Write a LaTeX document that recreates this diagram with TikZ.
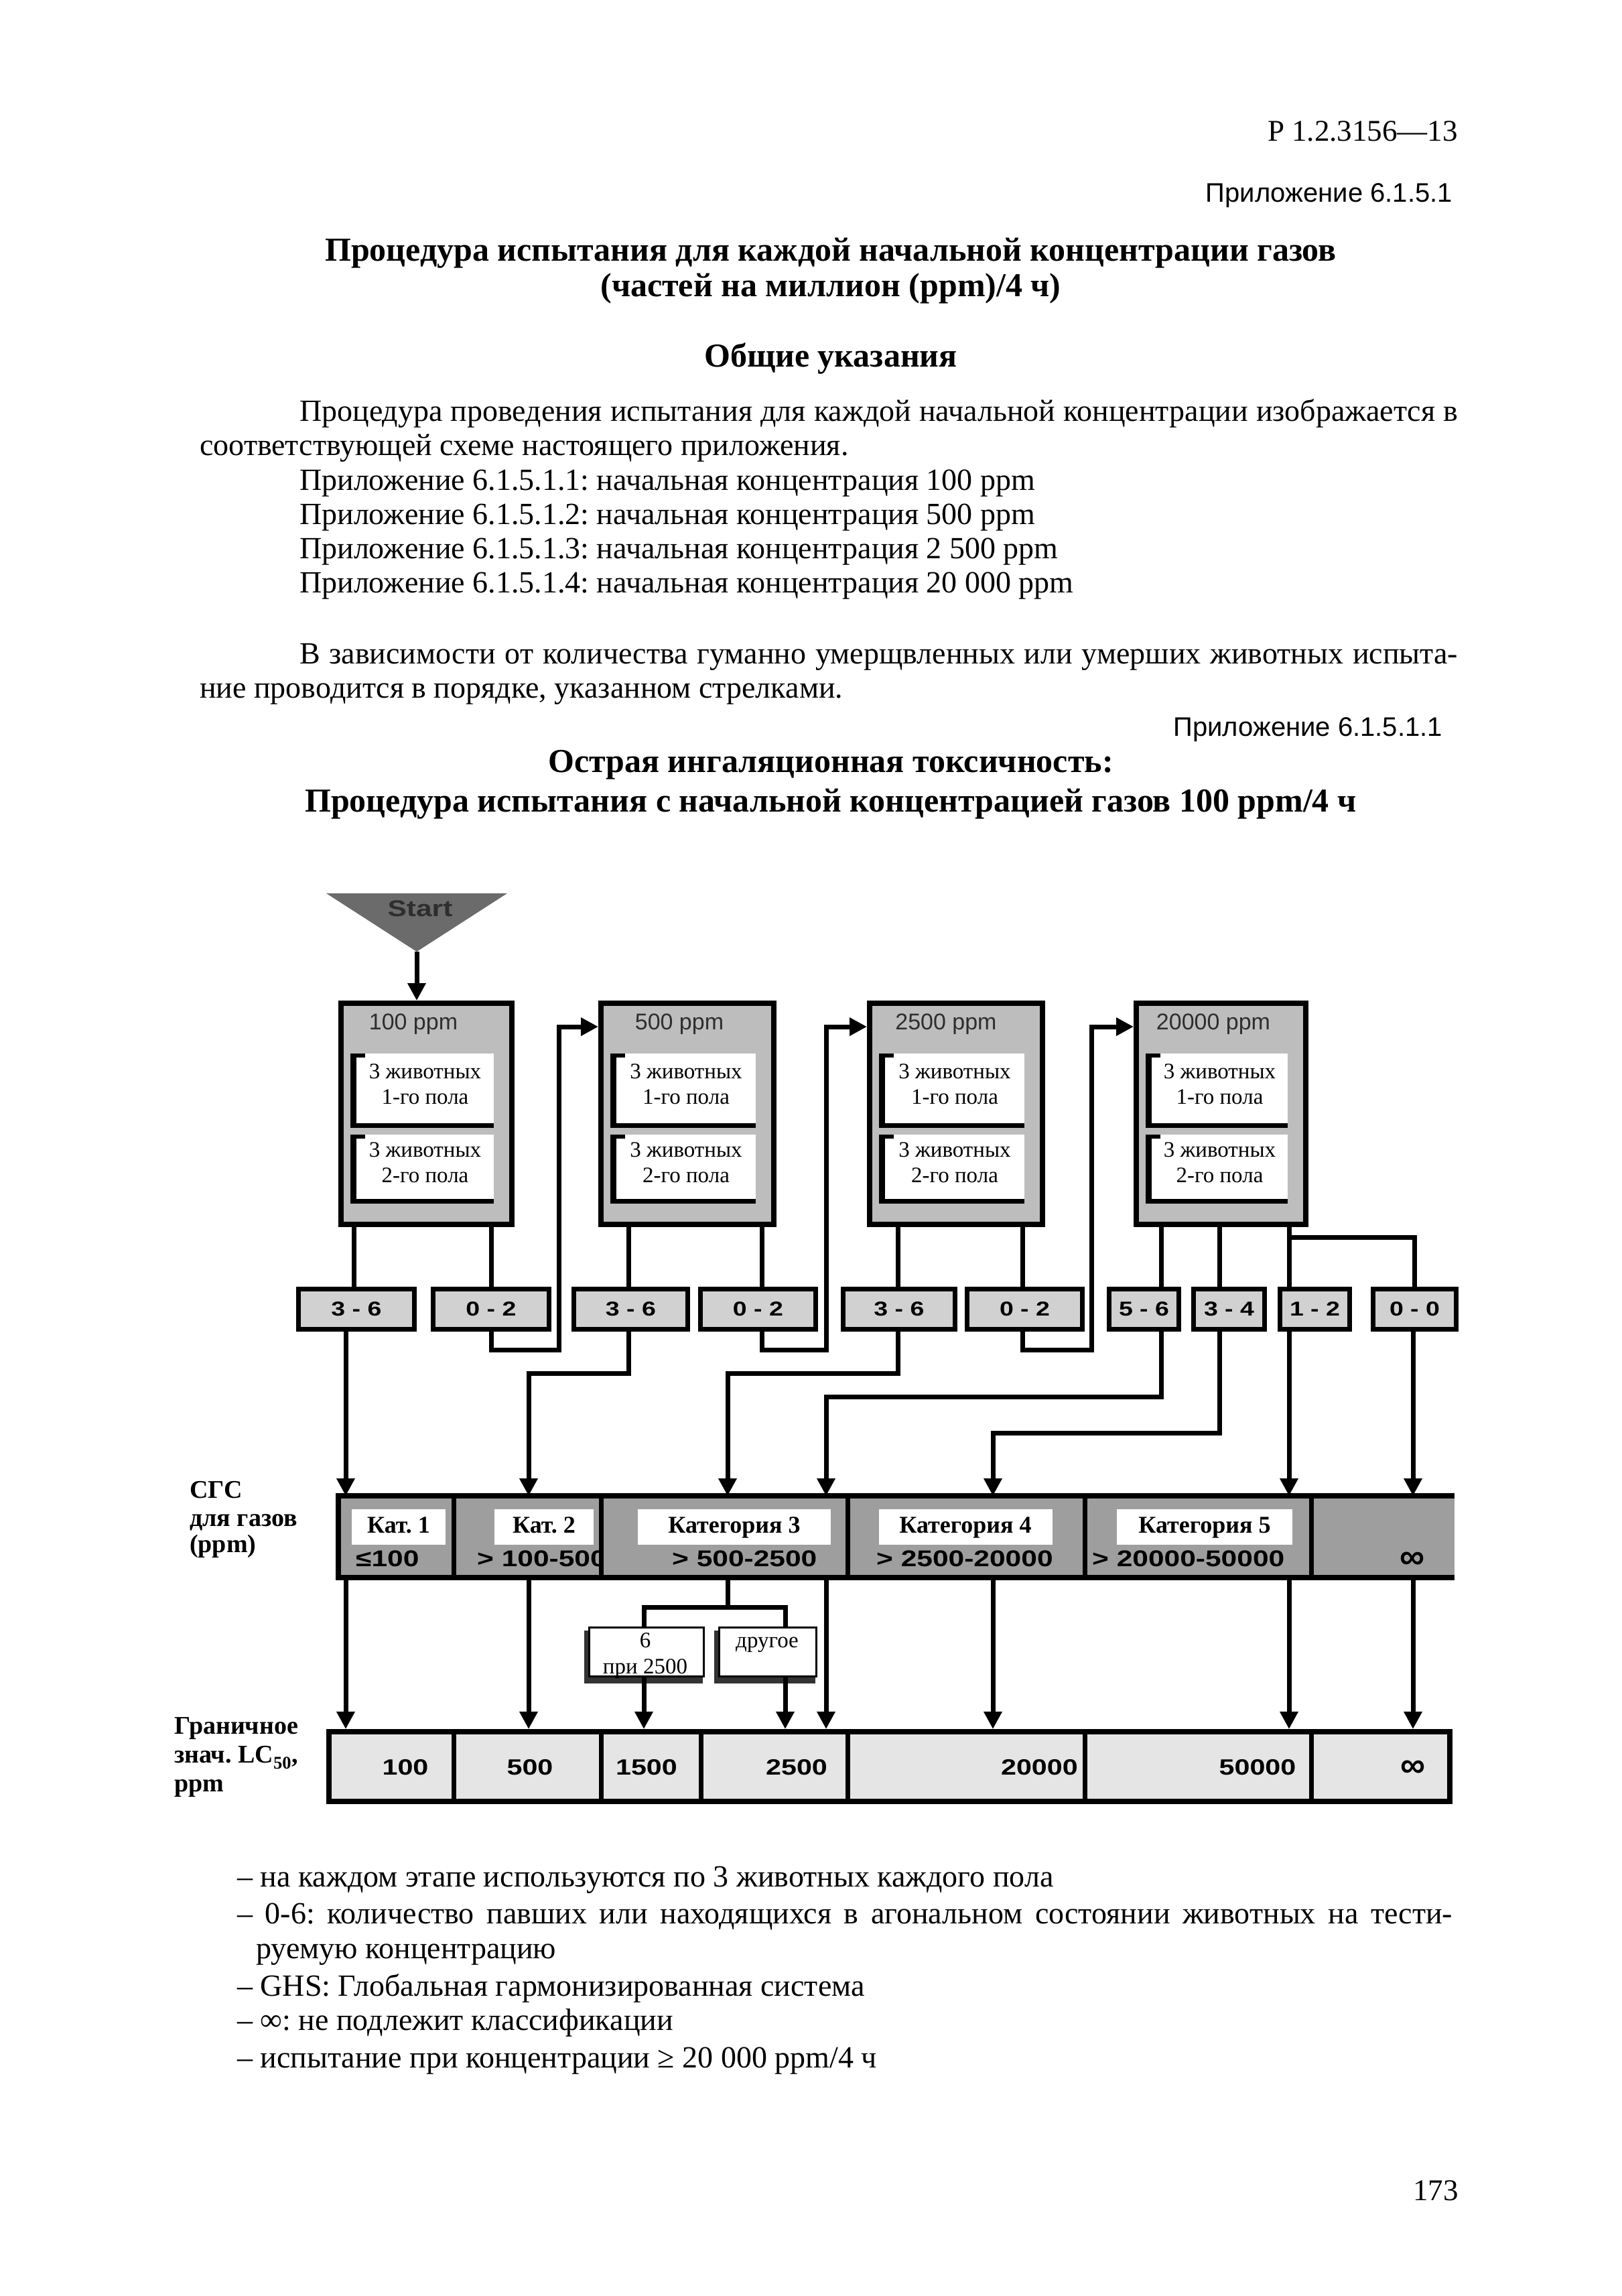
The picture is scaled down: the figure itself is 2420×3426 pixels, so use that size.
\documentclass[tikz,border=0pt]{standalone}
\usepackage{fontspec}
\setmainfont{Liberation Serif}
\setsansfont{Liberation Sans}
\newfontfamily\dsans[FakeStretch=1.25]{Liberation Sans}
\usetikzlibrary{arrows.meta,calc}
\newcommand\fs[2]{\fontsize{#1}{#2}\selectfont}
\definecolor{boxgray}{gray}{0.74}
\definecolor{resgray}{gray}{0.82}
\definecolor{cgsgray}{gray}{0.62}
\definecolor{lcgray}{gray}{0.9}
\definecolor{startgray}{gray}{0.42}
\definecolor{titlegray}{gray}{0.18}
\newcommand\ibox[6]{%
  \fill[white] (#2,#3) rectangle (#4,#5);
  \fill[black] (#2,#3) rectangle ({#2+9},#5);
  \fill[black] (#2,{#5-7}) rectangle (#4,#5);
  \fill[black] (#2,#3) rectangle ({#2+22},{#3+6});
  \node[font=\fs{33}{38}, align=center] (#1) at ({(#2+9+#4)/2},{(#3+#5)/2-10}) {#6};
}
\frenchspacing
\begin{document}
\frenchspacing
\begin{tikzpicture}[x=1pt,y=-1pt,
  every node/.style={inner sep=0pt},
  bigbox/.style={draw=black, line width=8pt, fill=boxgray, anchor=north west, minimum height=330},
  resbox/.style={draw=black, line width=7pt, fill=resgray, anchor=north west, minimum height=60, font=\dsans\bfseries\fs{30}{34}},
  conn/.style={line width=7pt},
  arr/.style={line width=7pt, -{Triangle[width=26pt,length=26pt]}},
  txt/.style={anchor=base west, font=\fs{46}{52}},
  head/.style={anchor=base, font=\bfseries\fs{50}{58}},
  btitle/.style={font=\sffamily\fs{34}{38}, text=titlegray},
  catlab/.style={anchor=base, font=\bfseries\fs{36}{40}},
  rng/.style={anchor=base west, font=\dsans\bfseries\fs{34}{38}},
  val/.style={anchor=base, font=\dsans\bfseries\fs{33}{38}},
  inf/.style={anchor=base, font=\sffamily\bfseries\fs{52}{56}},
  side/.style={anchor=base west, font=\bfseries\fs{38}{42}},
  small/.style={anchor=base, font=\fs{33}{38}},
  sbox/.style={anchor=north west, minimum height=73, fill=white, draw=black, line width=3pt}
]
\fill[white] (0,0) rectangle (2420,3426);
\useasboundingbox (0,0) rectangle (2420,3426);

% ---------- page text ----------
\node[anchor=base east, font=\fs{45}{52}] (hdr) at (2176,210) {Р 1.2.3156—13};
\node[anchor=base east, font=\sffamily\fs{40}{48}] (app1) at (2168,301) {Приложение 6.1.5.1};
\node[head] (t1) at (1240,389) {Процедура испытания для каждой начальной концентрации газов};
\node[head] (t2) at (1240,442) {(частей на миллион (ppm)/4 ч)};
\node[head] (t3) at (1240,547) {Общие указания};
\node[txt] (p1) at (447,628) {\makebox[1729pt][s]{Процедура проведения испытания для каждой начальной концентрации изображается в}};
\node[txt] (p2) at (298,679) {соответствующей схеме настоящего приложения.};
\node[txt] (p3) at (447,731) {Приложение 6.1.5.1.1: начальная концентрация 100 ppm};
\node[txt] (p4) at (447,782) {Приложение 6.1.5.1.2: начальная концентрация 500 ppm};
\node[txt] (p5) at (447,833) {Приложение 6.1.5.1.3: начальная концентрация 2 500 ppm};
\node[txt] (p6) at (447,884) {Приложение 6.1.5.1.4: начальная концентрация 20 000 ppm};
\node[txt] (p7) at (447,990) {\makebox[1729pt][s]{В зависимости от количества гуманно умерщвленных или умерших животных испыта-}};
\node[txt] (p8) at (298,1041) {ние проводится в порядке, указанном стрелками.};
\node[anchor=base east, font=\sffamily\fs{40}{48}] (app2) at (2153,1098) {Приложение 6.1.5.1.1};
\node[head] (t4) at (1240,1152) {Острая ингаляционная токсичность:};
\node[head] (t5) at (1240,1211) {Процедура испытания с начальной концентрацией газов 100 ppm/4 ч};

% ---------- start ----------
\fill[startgray] (487,1333) -- (757,1333) -- (622,1420) -- cycle;
\node[font=\dsans\bfseries\fs{34}{38}, text=titlegray] (start) at (627,1356) {Start};
\coordinate (apex) at (622,1420);

% ---------- concentration boxes ----------
\node[bigbox, minimum width=255] (B1) at (505,1493) {};
\node[bigbox, minimum width=258] (B2) at (893,1493) {};
\node[bigbox, minimum width=258] (B3) at (1294,1493) {};
\node[bigbox, minimum width=253] (B4) at (1692,1493) {};
\node[btitle] (B1t) at (617,1528) {100 ppm};
\node[btitle] (B2t) at (1014,1528) {500 ppm};
\node[btitle] (B3t) at (1412,1528) {2500 ppm};
\node[btitle] (B4t) at (1811,1528) {20000 ppm};
\ibox{B1a}{523}{1572}{737}{1683}{3 животных\\1-го пола}
\ibox{B1b}{523}{1693}{737}{1796}{3 животных\\2-го пола}
\ibox{B2a}{911}{1572}{1128}{1683}{3 животных\\1-го пола}
\ibox{B2b}{911}{1693}{1128}{1796}{3 животных\\2-го пола}
\ibox{B3a}{1312}{1572}{1529}{1683}{3 животных\\1-го пола}
\ibox{B3b}{1312}{1693}{1529}{1796}{3 животных\\2-го пола}
\ibox{B4a}{1710}{1572}{1922}{1683}{3 животных\\1-го пола}
\ibox{B4b}{1710}{1693}{1922}{1796}{3 животных\\2-го пола}

% ---------- result boxes ----------
\node[resbox, minimum width=173] (R1) at (442,1920) {3 - 6};
\node[resbox, minimum width=173] (R2) at (643,1920) {0 - 2};
\node[resbox, minimum width=170] (R3) at (853,1920) {3 - 6};
\node[resbox, minimum width=172] (R4) at (1042,1920) {0 - 2};
\node[resbox, minimum width=167] (R5) at (1255,1920) {3 - 6};
\node[resbox, minimum width=172] (R6) at (1440,1920) {0 - 2};
\node[resbox, minimum width=104] (R7) at (1652,1920) {5 - 6};
\node[resbox, minimum width=106] (R8) at (1778,1920) {3 - 4};
\node[resbox, minimum width=104] (R9) at (1907,1920) {1 - 2};
\node[resbox, minimum width=124] (R10) at (2046,1920) {0 - 0};

% ---------- GHS bar ----------
\node[anchor=north west, minimum width=1666, minimum height=122, fill=cgsgray] (CGS) at (505,2232) {};
\draw[line width=8pt] (CGS.north east) -- (CGS.north west) -- (CGS.south west) -- (CGS.south east);
\foreach \x in {677,897,1265,1619,1957} \draw[line width=7pt] (\x,2232) -- (\x,2354);
\fill[white] (525,2252) rectangle (665,2305);
\fill[white] (738,2252) rectangle (886,2305);
\fill[white] (952,2252) rectangle (1240,2305);
\fill[white] (1312,2252) rectangle (1571,2305);
\fill[white] (1667,2252) rectangle (1929,2305);
\node[catlab] (k1) at (595,2287) {Кат. 1};
\node[catlab] (k2) at (812,2287) {Кат. 2};
\node[catlab] (k3) at (1096,2287) {Категория 3};
\node[catlab] (k4) at (1441,2287) {Категория 4};
\node[catlab] (k5) at (1798,2287) {Категория 5};
\node[rng] (r1) at (531,2337) {≤100};
\begin{scope}
  \clip (681,2236) rectangle (893,2350);
  \node[rng] (r2) at (712,2337) {> 100-500};
\end{scope}
\node[rng] (r3) at (1003,2337) {> 500-2500};
\node[rng] (r4) at (1308,2337) {> 2500-20000};
\node[rng] (r5) at (1630,2337) {> 20000-50000};
\node[inf] (r6) at (2108,2340) {∞};

% ---------- small boxes ----------
\fill[black!80] (872,2433) rectangle (1049,2512);
\node[sbox, minimum width=171] (S1) at (878,2427) {};
\node[small] (S1a) at (963,2458) {6};
\node[small] (S1b) at (963,2497) {при 2500};
\fill[black!80] (1066,2433) rectangle (1217,2512);
\node[sbox, minimum width=145] (S2) at (1072,2427) {};
\node[small] (S2a) at (1145,2458) {другое};

% ---------- LC50 bar ----------
\node[anchor=north west, minimum width=1673, minimum height=104, fill=lcgray, draw=black, line width=8pt] (LC) at (487,2580) {};
\foreach \x in {677,897,1046,1265,1619,1957} \draw[line width=7pt] (\x,2580) -- (\x,2684);
\node[val] (v1) at (605,2648) {100};
\node[val] (v2) at (791,2648) {500};
\node[val] (v3) at (965,2648) {1500};
\node[val] (v4) at (1189,2648) {2500};
\node[val, anchor=base east] (v5) at (1609,2648) {20000};
\node[val] (v6) at (1877,2648) {50000};
\node[inf] (v7) at (2109,2651) {∞};

% ---------- side labels ----------
\node[side] (g1) at (283,2235) {СГС};
\node[side] (g2) at (283,2277) {для газов};
\node[side] (g3) at (283,2316) {(ppm)};
\node[side] (h1) at (260,2587) {Граничное};
\node[side] (h2) at (260,2630) {знач. LC\textsubscript{50},};
\node[side] (h3) at (260,2673) {ppm};

% ---------- lanes ----------
\coordinate (xS1t) at (528,0);
\coordinate (xS1b) at (516,0);
\coordinate (xS2) at (733,0);
\coordinate (xU2) at (834,0);
\coordinate (xS3) at (938,0);
\coordinate (xK2) at (789,0);
\coordinate (xS4) at (1137,0);
\coordinate (xU3) at (1233,0);
\coordinate (xS5) at (1340,0);
\coordinate (xK3) at (1086,0);
\coordinate (xS6) at (1526,0);
\coordinate (xU4) at (1629,0);
\coordinate (xS7) at (1733,0);
\coordinate (xS8) at (1820,0);
\coordinate (xK4) at (1482,0);
\coordinate (xS9) at (1924,0);
\coordinate (xS10) at (2109,0);
\coordinate (xSa) at (961,0);
\coordinate (xSb) at (1172,0);
\coordinate (yA) at (0,2014);
\coordinate (yB) at (0,2049);
\coordinate (yC) at (0,2084);
\coordinate (yD) at (0,2138);
\coordinate (yE) at (0,1846);
\coordinate (yF) at (0,1532);
\coordinate (yG) at (0,2398);

% ---------- connectors ----------
\draw[arr] (apex) -- (apex |- B1.north);
\draw[conn] (B1.south -| xS1t) -- (R1.north -| xS1t);
\draw[conn] (B1.south -| xS2) -- (R2.north -| xS2);
\draw[conn] (B2.south -| xS3) -- (R3.north -| xS3);
\draw[conn] (B2.south -| xS4) -- (R4.north -| xS4);
\draw[conn] (B3.south -| xS5) -- (R5.north -| xS5);
\draw[conn] (B3.south -| xS6) -- (R6.north -| xS6);
\draw[conn] (B4.south -| xS7) -- (R7.north -| xS7);
\draw[conn] (B4.south -| xS8) -- (R8.north -| xS8);
\draw[conn] (B4.south -| xS9) -- (R9.north -| xS9);
\draw[conn] (yE -| xS9) -| (R10.north);

\draw[arr] (R1.south -| xS1b) -- (CGS.north -| xS1b);
\draw[arr] (R2.south -| xS2) |- (yA -| xU2) |- (B2.west |- yF);
\draw[arr] (R3.south -| xS3) |- (yB -| xK2) -- (CGS.north -| xK2);
\draw[arr] (R4.south -| xS4) |- (yA -| xU3) |- (B3.west |- yF);
\draw[arr] (R5.south -| xS5) |- (yB -| xK3) -- (CGS.north -| xK3);
\draw[arr] (R6.south -| xS6) |- (yA -| xU4) |- (B4.west |- yF);
\draw[arr] (R7.south -| xS7) |- (yC -| xU3) -- (CGS.north -| xU3);
\draw[arr] (R8.south -| xS8) |- (yD -| xK4) -- (CGS.north -| xK4);
\draw[arr] (R9.south -| xS9) -- (CGS.north -| xS9);
\draw[arr] (R10.south -| xS10) -- (CGS.north -| xS10);

\draw[arr] (CGS.south -| xS1b) -- (LC.north -| xS1b);
\draw[arr] (CGS.south -| xK2) -- (LC.north -| xK2);
\draw[conn] (CGS.south -| xK3) -- (yG -| xK3);
\draw[conn] (S1.north -| xSa) |- (yG -| xSb) -- (S2.north -| xSb);
\draw[arr] (S1.south -| xSa) -- (LC.north -| xSa);
\draw[arr] (S2.south -| xSb) -- (LC.north -| xSb);
\draw[arr] (CGS.south -| xU3) -- (LC.north -| xU3);
\draw[arr] (CGS.south -| xK4) -- (LC.north -| xK4);
\draw[arr] (CGS.south -| xS9) -- (LC.north -| xS9);
\draw[arr] (CGS.south -| xS10) -- (LC.north -| xS10);

% ---------- notes ----------
\node[txt] (f1) at (354,2815) {– на каждом этапе используются по 3 животных каждого пола};
\node[txt] (f2) at (354,2870) {\makebox[1814pt][s]{– 0-6: количество павших или находящихся в агональном состоянии животных на тести-}};
\node[txt] (f3) at (382,2922) {руемую концентрацию};
\node[txt] (f4) at (354,2978) {– GHS: Глобальная гармонизированная система};
\node[txt] (f5) at (354,3029) {– ∞: не подлежит классификации};
\node[txt] (f6) at (354,3085) {– испытание при концентрации ≥ 20 000 ppm/4 ч};
\node[anchor=base east, font=\fs{45}{52}] (pg) at (2177,3283) {173};
\end{tikzpicture}
\end{document}
